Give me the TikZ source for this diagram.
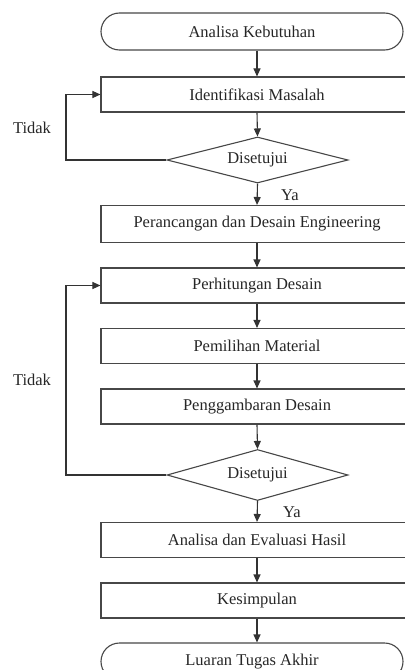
\documentclass[tikz,border=0pt]{standalone}
\usepackage{fontspec}
\setmainfont{Liberation Serif}
\usetikzlibrary{shapes.geometric,shapes.misc,arrows.meta}
\begin{document}
\begin{tikzpicture}[x=1bp,y=-1bp,
  every node/.style={font=\fontsize{16.5bp}{19bp}\selectfont, text=black!85},
  procbox/.style={draw=black!72, line width=1.1bp, rectangle, minimum width=312bp, minimum height=35bp, inner sep=0pt},
  termbox/.style={draw=black!72, line width=1.1bp, rounded rectangle, rounded rectangle arc length=180, minimum width=302bp, minimum height=37bp, inner sep=0pt},
  decbox/.style={draw=black!72, line width=1.1bp, diamond, aspect=3.9, minimum width=181bp, inner sep=0pt},
  flow/.style={draw=black!80, line width=1.1bp, -{Triangle[length=8bp,width=7bp]}},
  lbl/.style={inner sep=0pt}
]
\useasboundingbox (0,0) rectangle (404,670);
\node[termbox] (t1) at (252,31.5) {Analisa Kebutuhan};
\node[procbox] (b1) at (257,94.5) {Identifikasi Masalah};
\node[decbox, minimum height=46bp] (d1) at (257.5,160) {Disetujui};
\node[procbox, minimum height=37bp] (b2) at (257,224) {Perancangan dan Desain Engineering};
\node[procbox] (b3) at (257,285.5) {Perhitungan Desain};
\node[procbox] (b4) at (257,346) {Pemilihan Material};
\node[procbox] (b5) at (257,406.5) {Penggambaran Desain};
\node[decbox, minimum height=51bp] (d2) at (257.5,475) {Disetujui};
\node[procbox] (b6) at (257,540) {Analisa dan Evaluasi Hasil};
\node[procbox] (b7) at (257,600.5) {Kesimpulan};
\node[termbox] (t2) at (252,661.5) {Luaran Tugas Akhir};

\node[lbl] (ya1) at (290,195) {Ya};
\node[lbl] (ya2) at (292,512) {Ya};
\node[lbl] (td1) at (32,128) {Tidak};
\node[lbl] (td2) at (32,380) {Tidak};

\draw[flow] (b1.north |- t1.south) -- (b1.north);
\draw[flow] (b1.south) -- (d1.north);
\draw[flow] (d1.south) -- (b2.north);
\draw[flow] (b2.south) -- (b3.north);
\draw[flow] (b3.south) -- (b4.north);
\draw[flow] (b4.south) -- (b5.north);
\draw[flow] (b5.south) -- (d2.north);
\draw[flow] (d2.south) -- (b6.north);
\draw[flow] (b6.south) -- (b7.north);
\draw[flow] (b7.south) -- (b7.south |- t2.north);
\draw[flow] (d1.west) -- ++(-100.5,0) |- (b1.west);
\draw[flow] (d2.west) -- ++(-100.5,0) |- (b3.west);
\end{tikzpicture}
\end{document}
